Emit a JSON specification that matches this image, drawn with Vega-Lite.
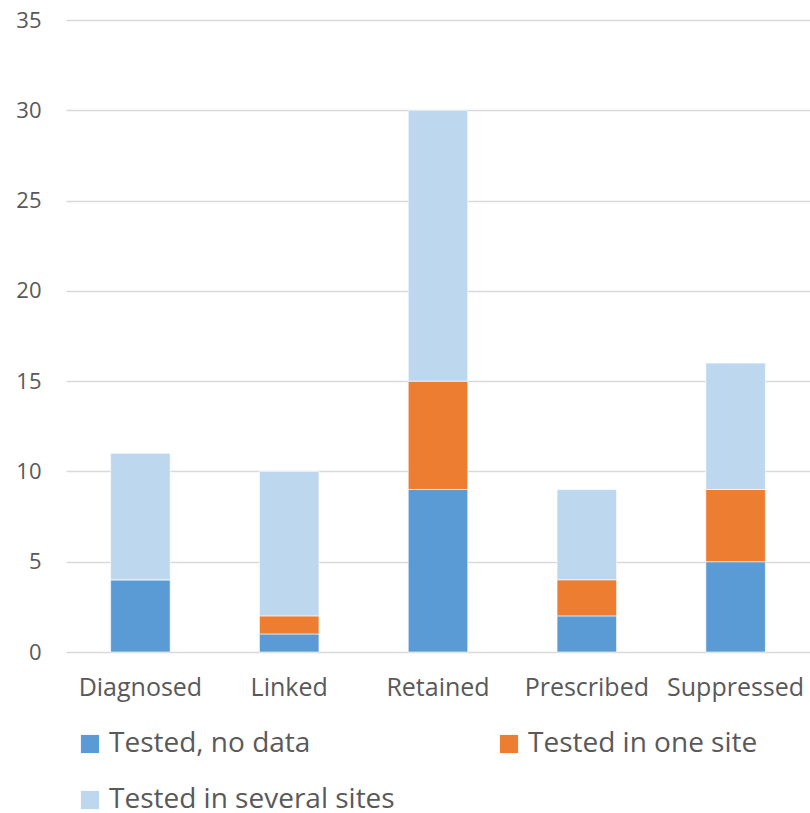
{
  "$schema": "https://vega.github.io/schema/vega-lite/v6.json",
  "autosize": "none",
  "width": 744,
  "height": 632,
  "padding": {"left": 66, "top": 20, "right": 0, "bottom": 161},
  "background": "white",
  "config": {
    "view": {"stroke": null},
    "font": "Open Sans",
    "axis": {"labelFont": "Open Sans", "labelColor": "#595959"}
  },
  "data": {
    "values": [
      {"stage": "Diagnosed", "group": "Tested, no data", "k": 1, "value": 4},
      {"stage": "Diagnosed", "group": "Tested in one site", "k": 2, "value": 0},
      {"stage": "Diagnosed", "group": "Tested in several sites", "k": 3, "value": 7},
      {"stage": "Linked", "group": "Tested, no data", "k": 1, "value": 1},
      {"stage": "Linked", "group": "Tested in one site", "k": 2, "value": 1},
      {"stage": "Linked", "group": "Tested in several sites", "k": 3, "value": 8},
      {"stage": "Retained", "group": "Tested, no data", "k": 1, "value": 9},
      {"stage": "Retained", "group": "Tested in one site", "k": 2, "value": 6},
      {"stage": "Retained", "group": "Tested in several sites", "k": 3, "value": 15},
      {"stage": "Prescribed", "group": "Tested, no data", "k": 1, "value": 2},
      {"stage": "Prescribed", "group": "Tested in one site", "k": 2, "value": 2},
      {"stage": "Prescribed", "group": "Tested in several sites", "k": 3, "value": 5},
      {"stage": "Suppressed", "group": "Tested, no data", "k": 1, "value": 5},
      {"stage": "Suppressed", "group": "Tested in one site", "k": 2, "value": 4},
      {"stage": "Suppressed", "group": "Tested in several sites", "k": 3, "value": 7}
    ]
  },
  "mark": {"type": "bar", "stroke": "white", "strokeWidth": 0.6},
  "encoding": {
    "x": {
      "field": "stage",
      "type": "nominal",
      "sort": ["Diagnosed", "Linked", "Retained", "Prescribed", "Suppressed"],
      "scale": {"paddingInner": 0.6, "paddingOuter": 0.3},
      "axis": {
        "title": null,
        "labelAngle": 0,
        "labelFontSize": 25,
        "labelPadding": 23,
        "ticks": false,
        "domain": false,
        "labelLimit": 300
      }
    },
    "y": {
      "field": "value",
      "type": "quantitative",
      "stack": "zero",
      "scale": {"domain": [0, 35], "nice": false},
      "axis": {
        "title": null,
        "values": [0, 5, 10, 15, 20, 25, 30, 35],
        "labelFontSize": 22,
        "labelPadding": 25,
        "ticks": false,
        "domain": false,
        "grid": true,
        "gridColor": "#D9D9D9",
        "gridWidth": 1.5
      }
    },
    "color": {
      "field": "group",
      "type": "nominal",
      "scale": {
        "domain": ["Tested, no data", "Tested in one site", "Tested in several sites"],
        "range": ["#5B9BD5", "#ED7D31", "#BDD7EE"]
      },
      "legend": {
        "title": null,
        "orient": "none",
        "legendX": 10,
        "legendY": 710,
        "direction": "horizontal",
        "columns": 2,
        "columnPadding": 100,
        "rowPadding": 28,
        "padding": 0,
        "symbolType": "square",
        "symbolSize": 330,
        "symbolStrokeWidth": 0,
        "labelFont": "Open Sans",
        "labelFontSize": 28,
        "labelColor": "#595959",
        "labelOffset": 5,
        "labelLimit": 400
      }
    },
    "order": {"field": "k", "type": "quantitative"}
  }
}
